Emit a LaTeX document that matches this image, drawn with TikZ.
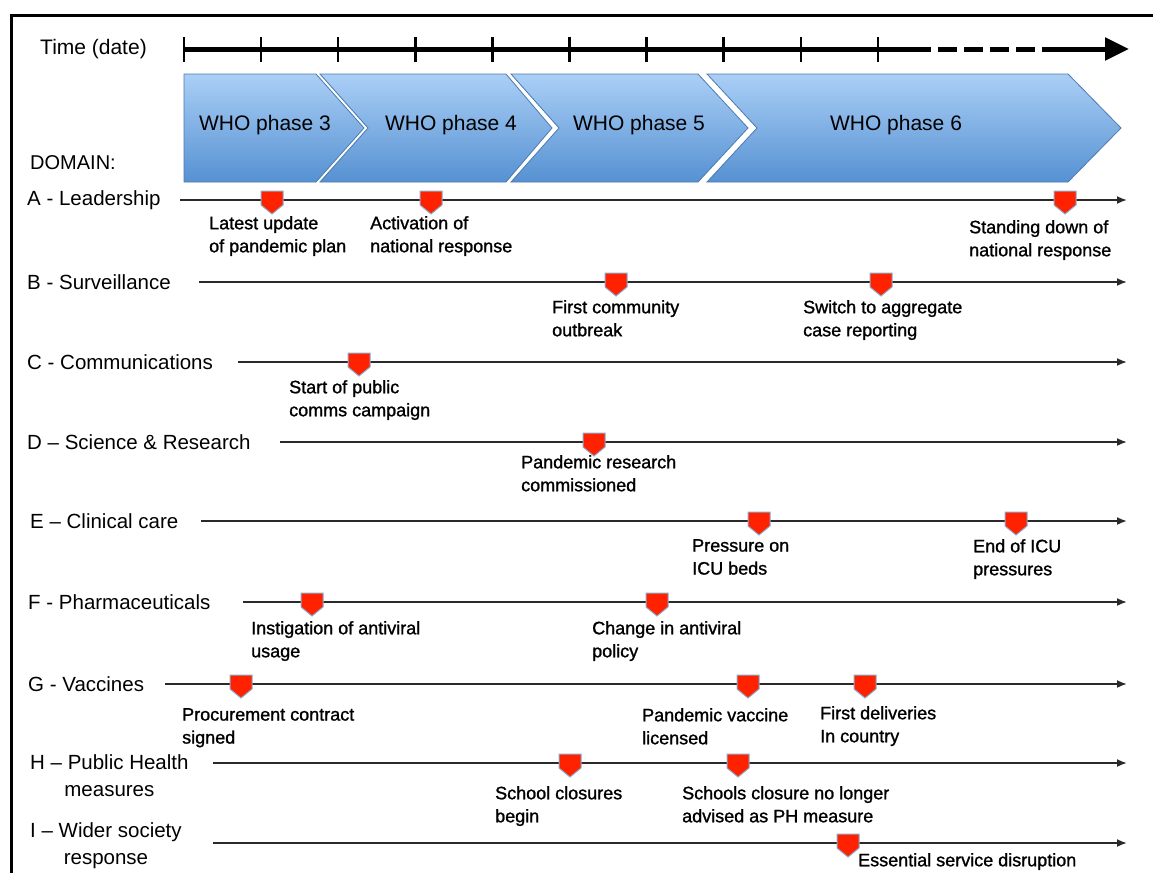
\documentclass[tikz,border=0pt]{standalone}
\usepackage{fontspec}
\setmainfont{Liberation Sans}
\newfontfamily\evfont[FakeBold=1.2]{Liberation Sans}
\usetikzlibrary{arrows.meta}

\definecolor{chevtop}{HTML}{AACFF6}
\definecolor{chevbot}{HTML}{5691D2}
\definecolor{chevedge}{HTML}{4C7BAE}
\definecolor{evred}{HTML}{FF2200}
\definecolor{evedge}{HTML}{8DA9C9}
\definecolor{rowgrey}{HTML}{2A2A2A}

\begin{document}
\begin{tikzpicture}[x=1pt, y=-1pt, % 1px = 1pt, y軸は下向き
  rowtxt/.style={anchor=west, inner sep=0pt, align=center, font=\fontsize{20.5}{27}\selectfont},
  evtxt/.style={anchor=north west, inner sep=0pt, align=left, font=\evfont\fontsize{18}{23}\selectfont},
  phasetxt/.style={inner sep=0pt, font=\fontsize{21}{25}\selectfont},
  rowline/.style={draw=rowgrey, line width=1.8pt, -{Latex[length=10pt,width=8pt]}},
  evmark/.style={fill=evred, draw=evedge, line width=1pt},
  chev/.style={top color=chevtop, bottom color=chevbot, draw=chevedge, line width=0.8pt}]
  \useasboundingbox (0,0) rectangle (1153,873); % 画像の大きさ
  \draw[line width=3pt] (11,873) -- (11,15) -- (1153,15); % 枠線

  % 時間軸
  \node[phasetxt, anchor=west] (time) at (40,49) {Time (date)};
  \coordinate (t0) at (184,49);
  \coordinate (t1) at (912,49);
  \coordinate (t2) at (1060,49);
  \coordinate (t3) at (1129,49);
  \draw[line width=5pt] (t0) -- (t1); % 実線
  \draw[line width=5pt, dash pattern=on 19pt off 7pt] (t1) -- (t2); % 破線
  \draw[line width=5pt, -{Triangle[length=24pt,width=22pt]}] (t2) -- (t3); % 矢印
  \foreach \i in {0,...,9}
    \draw[line width=2.5pt] ({184+77.1*\i},37) -- ({184+77.1*\i},62); % 目盛り

  % WHO phase の矢羽
  \shadedraw[chev] (184,74) -- (316,74) -- (364,128) -- (316,182) -- (184,182) -- cycle;
  \shadedraw[chev] (320,74) -- (506,74) -- (552,128) -- (506,182) -- (320,182) -- (368,128) -- cycle;
  \shadedraw[chev] (511,74) -- (698,74) -- (748,128) -- (698,182) -- (511,182) -- (559,128) -- cycle;
  \shadedraw[chev] (707,74) -- (1068,74) -- (1121,128) -- (1068,182) -- (707,182) -- (757,128) -- cycle;
  \node[phasetxt] (ph3) at (265,125) {WHO phase 3};
  \node[phasetxt] (ph4) at (451,125) {WHO phase 4};
  \node[phasetxt] (ph5) at (639,125) {WHO phase 5};
  \node[phasetxt] (ph6) at (896,125) {WHO phase 6};
  \node[phasetxt, anchor=west, font=\fontsize{20}{24}\selectfont] (domain) at (30,163) {DOMAIN:};

  % 各ドメインの線
  \foreach \n/\ly/\lx/\ry/\sx/\txt in {
      A/200/27/200/180/{A - Leadership},
      B/282/27/282/199/{B - Surveillance},
      C/362/27/362/238/{C - Communications},
      D/442/27/442/280/{D – Science \& Research},
      E/521/30/521/201/{E – Clinical care},
      F/602/28/602/243/{F - Pharmaceuticals},
      G/684/28/684/165/{G - Vaccines},
      H/776/30/763/213/{H – Public Health\\measures},
      I/846/30/843/213/{I – Wider society\\response}}{
    \node[rowtxt] (lab\n) at (\lx,\ly) {\txt};
    \coordinate (rs\n) at (\sx,\ry);
    \coordinate (re\n) at (1127,\ry);
    \draw[rowline] (rs\n) -- (re\n);
  }

  % イベントの印とラベル
  \foreach \mx/\ry/\lx/\ly/\txt [count=\k] in {
      272/200/209/223/{Latest update\\of pandemic plan},
      431/200/370/223/{Activation of\\national response},
      1065/200/969/227/{Standing down of\\national response},
      616/282/552/307/{First community\\outbreak},
      881/282/803/307/{Switch to aggregate\\case reporting},
      359/362/289/387/{Start of public\\comms campaign},
      594/442/521/462/{Pandemic research\\commissioned},
      759/521/692/546/{Pressure on\\ICU beds},
      1016/521/973/546/{End of ICU\\pressures},
      312/602/251/628/{Instigation of antiviral\\usage},
      657/602/592/628/{Change in antiviral\\policy},
      241/684/182/715/{Procurement contract\\signed},
      748/684/642/715/{Pandemic vaccine\\licensed},
      865/684/820/713/{First deliveries\\In country},
      570/763/495/793/{School closures\\begin},
      738/763/682/793/{Schools closure no longer\\advised as PH measure},
      848/843/858/860/{Essential service disruption}}{
    \filldraw[evmark] (\mx-11,\ry-9) -- (\mx+11,\ry-9) -- (\mx+11,\ry+5) -- (\mx,\ry+14) -- (\mx-11,\ry+5) -- cycle;
    \node[evtxt] (ev\k) at (\lx,\ly-7) {\txt};
  }
\end{tikzpicture}
\end{document}
